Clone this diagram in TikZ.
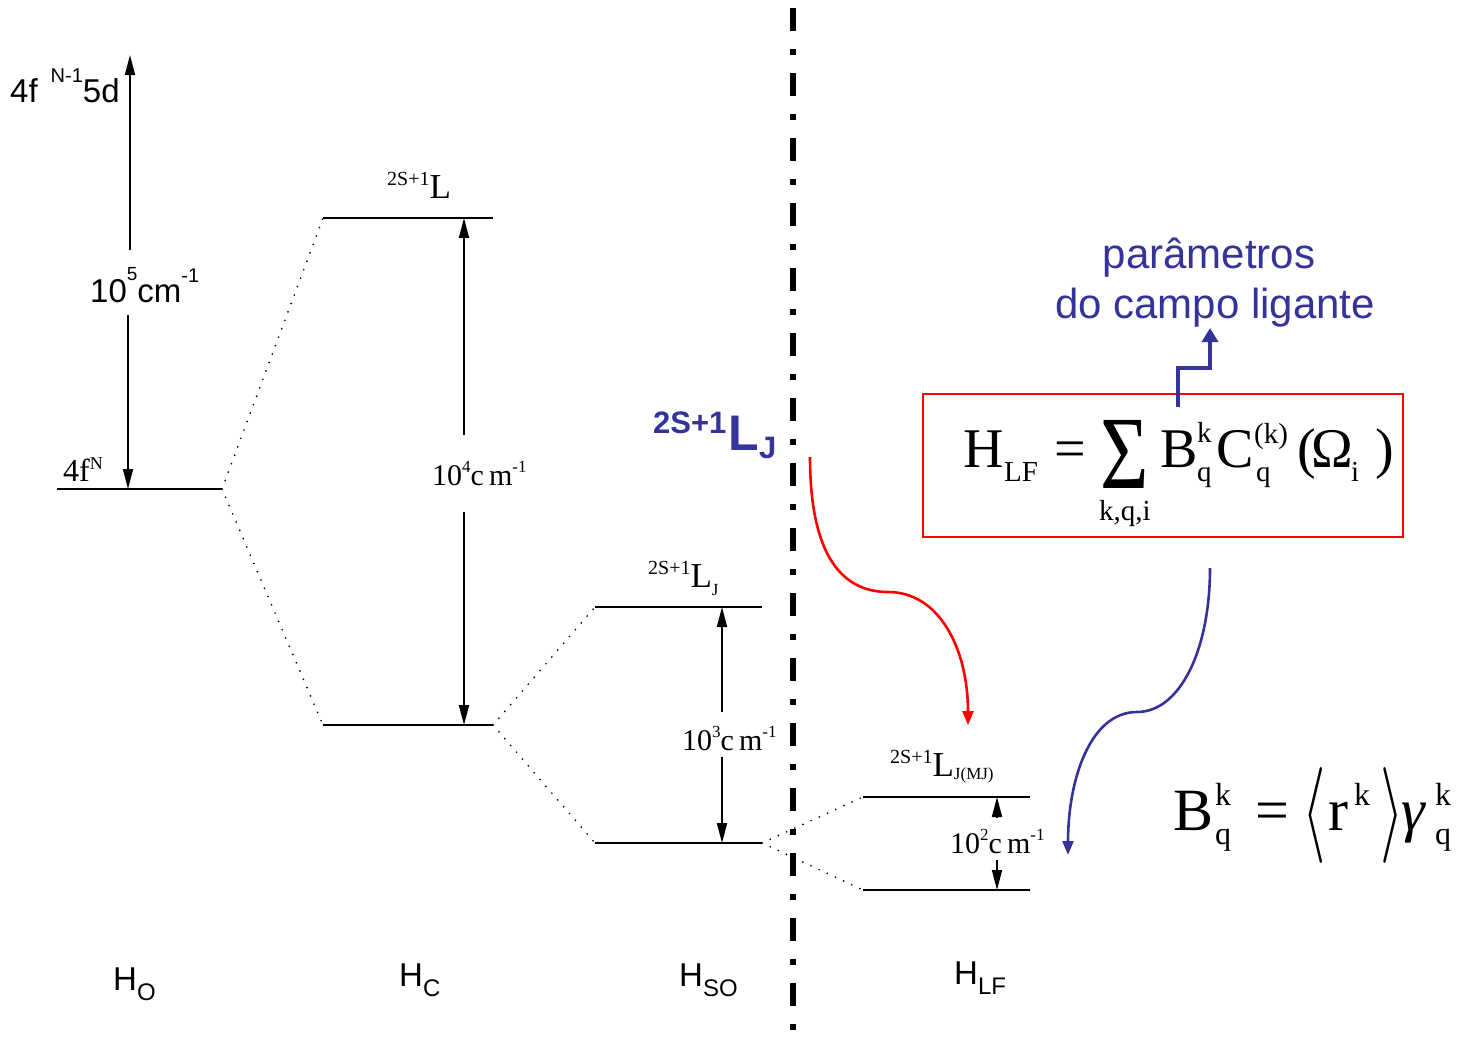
\RequirePackage{fix-cm}
\documentclass[tikz,border=0pt]{standalone}
\usepackage{graphicx}
\usepackage{fontspec}
\setmainfont{Liberation Serif}
\setsansfont{Liberation Sans}
\usetikzlibrary{arrows.meta}
\definecolor{navy}{RGB}{51,51,153}
\definecolor{pured}{RGB}{255,0,0}
\newcommand{\supx}[3]{\raisebox{#1}{\fontsize{#2}{#2}\selectfont #3}}
\begin{document}
\begin{tikzpicture}[x=1pt,y=-1pt,
  lvl/.style={line width=1.4pt},
  dotl/.style={line width=1.9pt, line cap=round, dash pattern=on 0pt off 9pt},
  arr/.style={line width=1.8pt,-{Triangle[length=20pt,width=10pt]}},
  lab/.style={inner sep=0pt, anchor=base west},
  sans/.style={font=\sffamily\fontsize{33}{36}\selectfont},
  ser/.style={font=\fontsize{30}{36}\selectfont},
  serL/.style={font=\fontsize{35}{40}\selectfont},
  fbig/.style={inner sep=0pt, anchor=base west, font=\fontsize{56}{60}\selectfont},
  fsm/.style={inner sep=0pt, anchor=base west, font=\fontsize{29}{32}\selectfont},
  gbig/.style={inner sep=0pt, anchor=base west, font=\fontsize{60}{64}\selectfont},
  gsm/.style={inner sep=0pt, anchor=base west, font=\fontsize{32}{34}\selectfont},
]
\path[use as bounding box] (0,0) rectangle (1466,1047);
\fill[white] (0,0) rectangle (1466,1047);

% dash-dot separator
\coordinate (sepT) at (793,8);
\coordinate (sepB) at (793,1047);
\draw[line width=6pt, dash pattern=on 23pt off 18pt on 6pt off 18pt] (sepT) -- (sepB);

% ---------- H0 ----------
\coordinate (h0a) at (57,489); \coordinate (h0b) at (222,489);
\draw[lvl] (h0a) -- (h0b);
\node[lab, sans] (top) at (10,102) {4f\hspace{13pt}\supx{20pt}{20}{N-1}5d};
\node[lab, sans] (e5) at (90,302) {10\supx{22pt}{19}{5}cm\supx{20pt}{20}{-1}};
\coordinate (a5s) at (130,250); \coordinate (a5t) at (130,55);
\draw[arr] (a5s) -- (a5t);
\coordinate (a5d) at (128,315); \coordinate (a5e) at (128,489);
\draw[arr] (a5d) -- (a5e);
\node[lab, font=\fontsize{32}{36}\selectfont] (f4) at (63,481) {4f\supx{12pt}{18}{N}};

% ---------- HC ----------
\coordinate (hc1a) at (323,218); \coordinate (hc1b) at (493,218);
\coordinate (hc2a) at (323,725); \coordinate (hc2b) at (493,725);
\draw[lvl] (hc1a) -- (hc1b);
\draw[lvl] (hc2a) -- (hc2b);
\draw[dotl] (h0b) -- (hc1a);
\draw[dotl] (h0b) -- (hc2a);
\node[lab, serL] (lL) at (387,198) {\supx{13pt}{20}{2S+1}L};
\node[lab, ser] (e4) at (432,485) {10\supx{13pt}{17}{4}c\,m\supx{13pt}{17}{-1}};
\coordinate (a4s) at (464,435); \coordinate (a4t) at (464,218);
\coordinate (a4d) at (464,512); \coordinate (a4e) at (464,725);
\draw[arr] (a4s) -- (a4t);
\draw[arr] (a4d) -- (a4e);

% ---------- HSO ----------
\coordinate (so1a) at (595,607); \coordinate (so1b) at (762,607);
\coordinate (so2a) at (595,843); \coordinate (so2b) at (762,843);
\draw[lvl] (so1a) -- (so1b);
\draw[lvl] (so2a) -- (so2b);
\draw[dotl] (hc2b) -- (so1a);
\draw[dotl] (hc2b) -- (so2a);
\node[lab, serL] (lLJ) at (648,587) {\supx{13pt}{20}{2S+1}L\supx{-8pt}{17}{J}};
\node[lab, ser] (e3) at (682,750) {10\supx{13pt}{17}{3}c\,m\supx{13pt}{17}{-1}};
\coordinate (a3s) at (722,712); \coordinate (a3t) at (722,607);
\coordinate (a3d) at (722,757); \coordinate (a3e) at (722,843);
\draw[arr] (a3s) -- (a3t);
\draw[arr] (a3d) -- (a3e);

% ---------- HLF ----------
\coordinate (lf1a) at (863,797); \coordinate (lf1b) at (1030,797);
\coordinate (lf2a) at (863,890); \coordinate (lf2b) at (1030,890);
\draw[lvl] (lf1a) -- (lf1b);
\draw[lvl] (lf2a) -- (lf2b);
\draw[dotl] (so2b) -- (lf1a);
\draw[dotl] (so2b) -- (lf2a);
\node[lab, serL] (lLJM) at (890,776) {\supx{13pt}{20}{2S+1}L\supx{-3pt}{17}{J(MJ)}};
\node[lab, ser] (e2) at (950,853) {10\supx{13pt}{17}{2}c\,m\supx{13pt}{17}{-1}};
\coordinate (a2s) at (997,817); \coordinate (a2t) at (997,797);
\coordinate (a2d) at (997,860); \coordinate (a2e) at (997,890);
\draw[arr] (a2s) -- (a2t);
\draw[arr] (a2d) -- (a2e);

% ---------- bottom labels ----------
\node[lab, sans] (H0) at (113,990) {H\supx{-10pt}{24}{O}};
\node[lab, sans] (HC) at (399,986) {H\supx{-10pt}{24}{C}};
\node[lab, sans] (HSO) at (679,986) {H\supx{-10pt}{24}{SO}};
\node[lab, sans] (HLF) at (954,984) {H\supx{-10pt}{24}{LF}};

% ---------- blue label ----------
\node[lab, font=\sffamily\bfseries\fontsize{50}{56}\selectfont, text=navy] (bLJ) at (653,450)
  {\supx{17pt}{31}{2S+1}\hspace{2pt}L\supx{-8pt}{31}{J}};

% red curve
\coordinate (rs) at (810,457); \coordinate (rm) at (888,592); \coordinate (re) at (968,725);
\draw[pured, line width=2.6pt, -{Triangle[length=14pt,width=11pt]}]
  (rs) .. controls (810,560) and (845,592) .. (rm)
       .. controls (940,592) and (968,650) .. (re);

% ---------- box with H_LF ----------
\node[draw=pured, line width=2pt, minimum width=480pt, minimum height=143pt, anchor=north west, inner sep=0pt] (box) at (922,393) {};
\node[fbig] (hH) at (963,467) {H};
\node[fsm] (hLF) at (1004,481) {LF};
\node[fbig] (hEq) at (1054,467) {=};
\node[inner sep=0pt, anchor=base, font=\fontsize{104}{110}\selectfont] (hSum) at (1125,488) {\scalebox{0.8}[1]{Σ}};
\node[inner sep=0pt, anchor=base, font=\fontsize{29}{32}\selectfont] (hLim) at (1125,520) {k,q,i};
\node[fbig] (hB) at (1160,467) {B};
\node[fsm] (hBk) at (1197,442) {k};
\node[fsm] (hBq) at (1197,481) {q};
\node[fbig] (hC) at (1216,467) {C};
\node[fsm] (hCk) at (1254,443) {(k)};
\node[fsm] (hCq) at (1256,481) {q};
\node[fbig] (hP1) at (1297,467) {(};
\node[fbig] (hOm) at (1311,467) {Ω};
\node[fsm] (hi) at (1351,481) {i};
\node[fbig] (hP2) at (1375,467) {)};

% blue elbow
\coordinate (bs) at (1178,407); \coordinate (bt) at (1210,328);
\draw[navy, line width=4pt, -{Triangle[length=14pt,width=16pt]}]
  (bs) -- (1178,368) -- (1210,368) -- (bt);
\node[lab, font=\sffamily\fontsize{42}{48}\selectfont, text=navy, anchor=base] (par) at (1209,268) {parâmetros};
\node[lab, font=\sffamily\fontsize{42}{48}\selectfont, text=navy, anchor=base] (doc) at (1215,318) {do campo ligante};

% blue curve
\coordinate (cs) at (1210,568); \coordinate (cm) at (1137,712); \coordinate (ce) at (1068,855);
\draw[navy, line width=2.6pt, -{Triangle[length=14pt,width=11pt]}]
  (cs) .. controls (1210,650) and (1180,712) .. (cm)
       .. controls (1090,712) and (1068,780) .. (ce);

% B formula
\node[gbig] (bB) at (1173,830) {B};
\node[gsm] (bBk) at (1215,805) {k};
\node[gsm] (bBq) at (1215,844) {q};
\node[gbig] (bEq) at (1255,830) {=};
\node[gbig] (bLa) at (1302,830) {\raisebox{-9pt}{\scalebox{1}[1.6]{$\langle$}}};
\node[gbig] (br) at (1328,830) {r};
\node[gsm] (brk) at (1354,805) {k};
\node[gbig] (bRa) at (1380,830) {\raisebox{-9pt}{\scalebox{1}[1.6]{$\rangle$}}};
\node[gbig] (bg) at (1401,830) {\itshape γ};
\node[gsm] (bgk) at (1435,805) {k};
\node[gsm] (bgq) at (1435,844) {q};
\end{tikzpicture}
\end{document}
